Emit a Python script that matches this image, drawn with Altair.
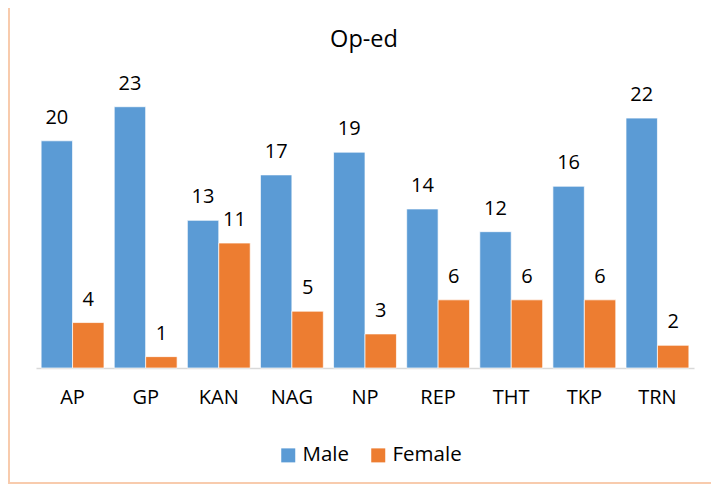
import altair as alt
import pandas as pd

categories = ["AP", "GP", "KAN", "NAG", "NP", "REP", "THT", "TKP", "TRN"]
male = [20, 23, 13, 17, 19, 14, 12, 16, 22]
female = [4, 1, 11, 5, 3, 6, 6, 6, 2]
series = ["Male", "Female"]
colors = ["#5B9BD5", "#ED7D31"]
title_text = ["Op-ed"]

rows = []
for c, m, f in zip(categories, male, female):
    rows.append({"cat": c, "gender": "Male", "value": m})
    rows.append({"cat": c, "gender": "Female", "value": f})
df = pd.DataFrame(rows)

FONT = "Open Sans"
W, H = 658, 284

x = alt.X("cat:N", sort=categories, title=None,
          scale=alt.Scale(paddingInner=0.14, paddingOuter=0.07),
          axis=alt.Axis(labelAngle=0, labelFontSize=20, labelFont=FONT, labelColor="#000",
                        ticks=False, domainColor="#d9d9d9", domainWidth=1.5, labelPadding=19))
xo = alt.XOffset("gender:N", sort=series)
y = alt.Y("value:Q", scale=alt.Scale(domain=[0, 25]), axis=None)

base = alt.Chart(df)
bars = base.mark_bar(stroke="white", strokeWidth=0.7).encode(
    x=x, xOffset=xo, y=y,
    color=alt.Color("gender:N", sort=series,
                    scale=alt.Scale(domain=series, range=colors),
                    legend=alt.Legend(title=None, orient="none", direction="horizontal",
                                      legendX=242, legendY=361, symbolType="square",
                                      symbolSize=196, symbolStrokeWidth=0,
                                      labelFontSize=20.5, labelFont=FONT, labelColor="#000",
                                      columnPadding=18, labelOffset=4)),
)
labels = base.mark_text(dy=-13, fontSize=20, font=FONT, color="#000", baseline="bottom").encode(
    x=x, xOffset=xo, y=y, text="value:Q"
)
tdf = pd.DataFrame({"t": title_text})
title = alt.Chart(tdf).mark_text(fontSize=23.5, font=FONT, color="#000", baseline="alphabetic",
                                 align="center").encode(
    x=alt.value(W / 2 - 1), y=alt.value(-37), text="t:N"
)
bdf = pd.DataFrame({"k": [1]})
left_border = alt.Chart(bdf).mark_rule(color="#f8cbad", strokeWidth=2).encode(
    x=alt.value(-27), y=alt.value(-76), y2=alt.value(H + 115)
)
bottom_border = alt.Chart(bdf).mark_rule(color="#f8cbad", strokeWidth=2).encode(
    x=alt.value(-28), x2=alt.value(W + 17), y=alt.value(H + 115)
)

chart = alt.layer(bars, labels, title, left_border, bottom_border).properties(
    width=W, height=H,
    autosize=alt.AutoSizeParams(type="none"),
    padding={"left": 28, "top": 76, "right": 17, "bottom": 116},
).configure_view(stroke=None)

chart.save("out.html", embed_options={"renderer": "svg", "actions": False})
